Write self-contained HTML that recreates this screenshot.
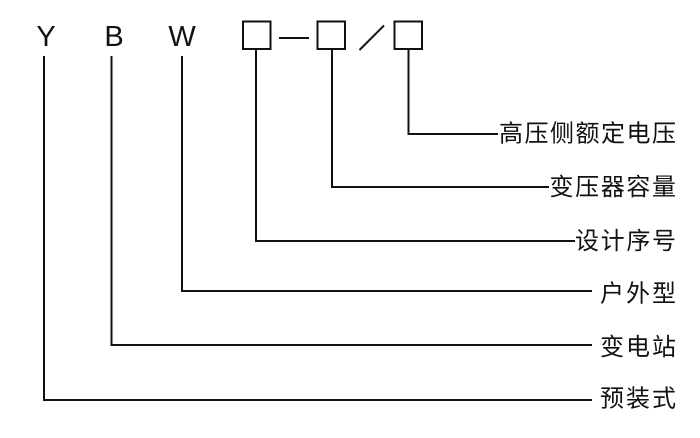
<!DOCTYPE html>
<html>
<head>
<meta charset="utf-8">
<style>
  html,body{margin:0;padding:0;background:#fff;}
  body{width:700px;height:438px;overflow:hidden;}
  svg{display:block;}
  .lat{font-family:"Liberation Sans",sans-serif;font-size:29px;fill:#111;}
  .cjk{font-family:"Liberation Sans","Noto Sans CJK SC",sans-serif;font-size:24px;fill:#111;}
</style>
</head>
<body>
<svg width="700" height="438" viewBox="0 0 700 438" xmlns="http://www.w3.org/2000/svg">
  <rect width="700" height="438" fill="#fff"/>
  <g class="lat" text-anchor="middle">
    <text x="46" y="46">Y</text>
    <text x="114" y="46">B</text>
    <text x="182" y="46">W</text>
  </g>
  <g fill="none" stroke="#111" stroke-width="2">
    <rect x="243" y="21.5" width="27.5" height="27.5"/>
    <rect x="317.5" y="21.5" width="27.5" height="27.5"/>
    <rect x="394.5" y="21.5" width="27.5" height="27.5"/>
    <line x1="279" y1="38" x2="309" y2="38"/>
    <line x1="359.5" y1="50" x2="384" y2="25.5"/>
    <polyline points="44,56 44,400 592,400"/>
    <polyline points="111.5,56 111.5,345 592,345"/>
    <polyline points="182,56 182,291 592,291"/>
    <polyline points="256,49 256,241 575,241"/>
    <polyline points="332,49 332,187 549,187"/>
    <polyline points="408.5,49 408.5,134 498,134"/>
  </g>
  <g class="cjk">
    <text x="499" y="141.5" textLength="177" lengthAdjust="spacing">高压侧额定电压</text>
    <text x="549.5" y="195" textLength="126.5" lengthAdjust="spacing">变压器容量</text>
    <text x="575" y="249" textLength="101" lengthAdjust="spacing">设计序号</text>
    <text x="600" y="301.5" textLength="76" lengthAdjust="spacing">户外型</text>
    <text x="600" y="355" textLength="76" lengthAdjust="spacing">变电站</text>
    <text x="600" y="406.5" textLength="76" lengthAdjust="spacing">预装式</text>
  </g>
</svg>
</body>
</html>
